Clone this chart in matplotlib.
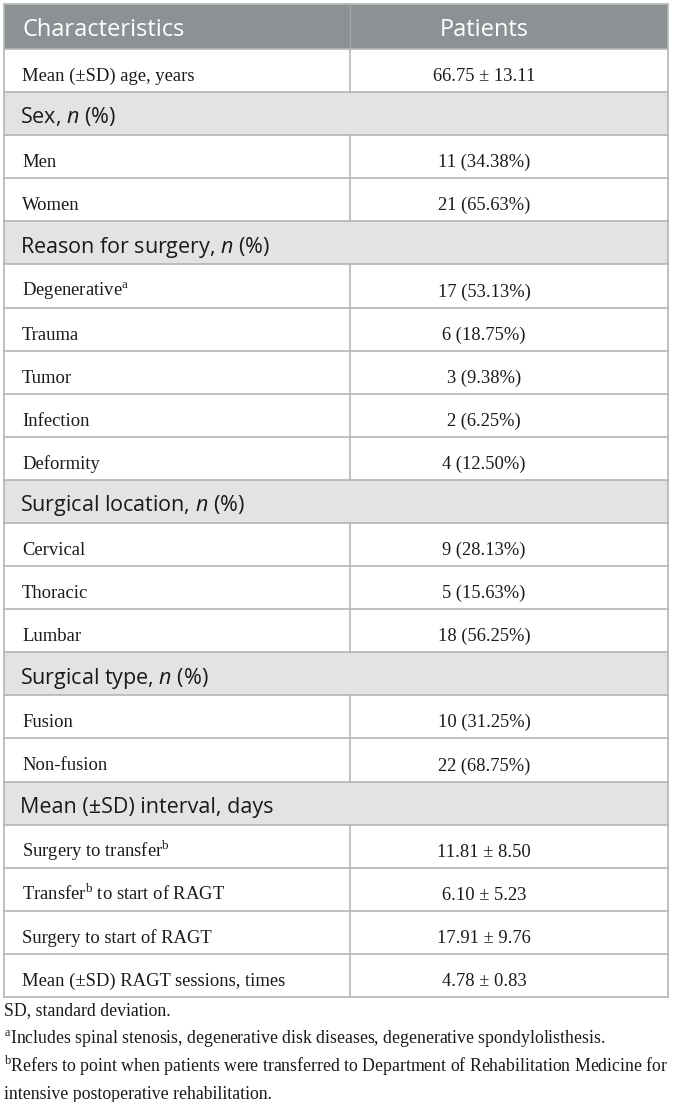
import matplotlib
matplotlib.use("Agg")
import matplotlib.pyplot as plt
from matplotlib.patches import Rectangle

plt.rcParams['mathtext.fontset'] = 'custom'
plt.rcParams['mathtext.rm'] = 'Liberation Serif'
plt.rcParams['mathtext.it'] = 'Open Sans:italic'

header = ["Characteristics", "Patients"]
labels = [
    "Mean (±SD) age, years",
    "Sex, $\\it{n}$ (%)",
    "Men", "Women",
    "Reason for surgery, $\\it{n}$ (%)",
    "Degenerative$^{\\mathrm{a}}$", "Trauma", "Tumor", "Infection", "Deformity",
    "Surgical location, $\\it{n}$ (%)",
    "Cervical", "Thoracic", "Lumbar",
    "Surgical type, $\\it{n}$ (%)",
    "Fusion", "Non-fusion",
    "Mean (±SD) interval, days",
    "Surgery to transfer$^{\\mathrm{b}}$",
    "Transfer$^{\\mathrm{b}}$ to start of RAGT",
    "Surgery to start of RAGT",
    "Mean (±SD) RAGT sessions, times",
]
values = [
    "66.75 ± 13.11",
    None,
    "11 (34.38%)", "21 (65.63%)",
    None,
    "17 (53.13%)", "6 (18.75%)", "3 (9.38%)", "2 (6.25%)", "4 (12.50%)",
    None,
    "9 (28.13%)", "5 (15.63%)", "18 (56.25%)",
    None,
    "10 (31.25%)", "22 (68.75%)",
    None,
    "11.81 ± 8.50", "6.10 ± 5.23", "17.91 ± 9.76", "4.78 ± 0.83",
]
footnotes = [
    "SD, standard deviation.",
    "$^{\\mathrm{a}}$Includes spinal stenosis, degenerative disk diseases, degenerative spondylolisthesis.",
    "$^{\\mathrm{b}}$Refers to point when patients were transferred to Department of Rehabilitation Medicine for",
    "intensive postoperative rehabilitation.",
]

W, H = 673, 1102
fig = plt.figure(figsize=(W / 100, H / 100), dpi=100)
ax = fig.add_axes([0, 0, 1, 1])
ax.set_xlim(0, W)
ax.set_ylim(H, 0)
ax.axis("off")

left, right, mid = 4, 668, 350
top, head_bot, bottom = 4, 49, 997
rh = (bottom - head_bot) / len(labels)
vcenter = 484

header_bg = "#8c9194"
section_bg = "#e2e3e3"
line_c = "#b4b6b6"
ink = "#1a1a1a"

sans = "Open Sans"
serif = "Liberation Serif"

# header
ax.add_patch(Rectangle((left, top), right - left, head_bot - top, color=header_bg, lw=0))
ax.text(22, top + 32, header[0], color="white", fontsize=17, family=sans, va="baseline")
ax.text(vcenter, top + 32, header[1], color="white", fontsize=17, family=sans, va="baseline", ha="center")
ax.plot([mid, mid], [top, head_bot], color="#a3a7a9", lw=1)

for i, (lab, val) in enumerate(zip(labels, values)):
    y0 = head_bot + i * rh
    if val is None:
        ax.add_patch(Rectangle((left, y0), right - left, rh, color=section_bg, lw=0))
        ax.text(20, y0 + 31.4, lab, color=ink, fontsize=15.5, family=sans, va="baseline")
    else:
        ax.text(22, y0 + 32, lab, color=ink, fontsize=13.4, family=serif, va="baseline")
        ax.text(vcenter, y0 + 32, val, color=ink, fontsize=13.3, family=serif, va="baseline", ha="center")
        ax.plot([mid, mid], [y0, y0 + rh], color=line_c, lw=1.2)
    ax.plot([left, right], [y0, y0], color=line_c, lw=1.2)

ax.plot([left, right], [bottom, bottom], color=line_c, lw=1.2)
ax.plot([left, right], [top, top], color=line_c, lw=1.2)
ax.plot([left, left], [top, bottom], color=line_c, lw=1.2)
ax.plot([right, right], [top, bottom], color=line_c, lw=1.2)

foot_y = [1015, 1044, 1072, 1099]
for fy, ft in zip(foot_y, footnotes):
    ax.text(4, fy, ft, color=ink, fontsize=12.8, family=serif, va="baseline")

fig.savefig("out.png", dpi=100)
